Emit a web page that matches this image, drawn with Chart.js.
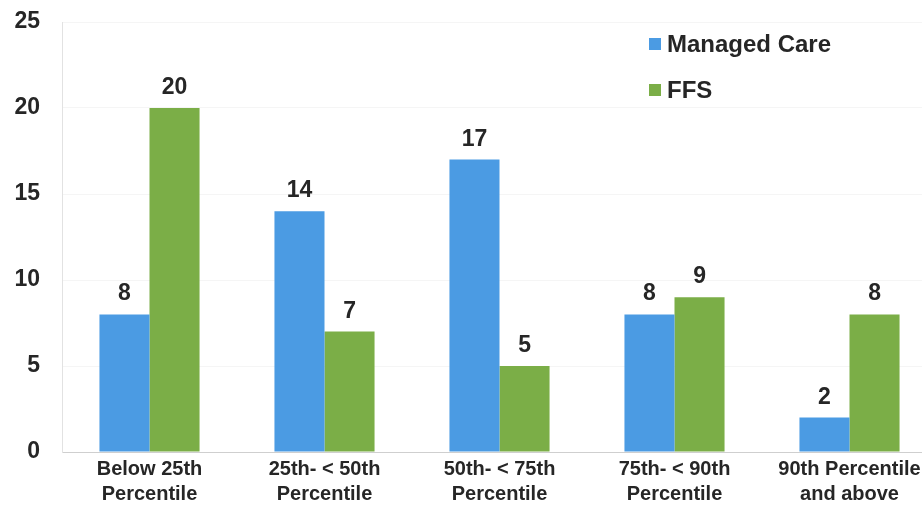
<!DOCTYPE html>
<html>
<head>
<meta charset="utf-8">
<script src="https://cdn.jsdelivr.net/npm/chart.js@4"></script>
<style>
  html, body { margin: 0; padding: 0; background: #fff; overflow: hidden; }
  #wrap { width: 940px; height: 513px; }
</style>
</head>
<body>
<div id="wrap"><canvas id="percentileChart"></canvas></div>
<script>
const categories = [
  ['Below 25th', 'Percentile'],
  ['25th- < 50th', 'Percentile'],
  ['50th- < 75th', 'Percentile'],
  ['75th- < 90th', 'Percentile'],
  ['90th Percentile', 'and above']
];
const managedCare = [8, 14, 17, 8, 2];
const ffs = [20, 7, 5, 9, 8];
const yTicks = [0, 5, 10, 15, 20, 25];

const FONT = '"Liberation Sans", Arial, sans-serif';
const TEXT = '#262626';

// numbers above each bar
const valueLabels = {
  id: 'valueLabels',
  afterDatasetsDraw(chart) {
    const ctx = chart.ctx;
    ctx.save();
    ctx.font = 'bold 23px ' + FONT;
    ctx.fillStyle = TEXT;
    ctx.textAlign = 'center';
    ctx.textBaseline = 'alphabetic';
    chart.data.datasets.forEach((ds, i) => {
      chart.getDatasetMeta(i).data.forEach((bar, j) => {
        ctx.fillText(ds.data[j], bar.x, bar.y - 14);
      });
    });
    ctx.restore();
  }
};

// legend stacked in the top right of the plot
const cornerLegend = {
  id: 'cornerLegend',
  afterDraw(chart) {
    const ctx = chart.ctx;
    const x = 649, y0 = 44, gap = 46;
    ctx.save();
    ctx.font = 'bold 24px ' + FONT;
    ctx.textBaseline = 'middle';
    chart.data.datasets.forEach((ds, i) => {
      const y = y0 + i * gap;
      ctx.fillStyle = ds.backgroundColor;
      ctx.fillRect(x, y - 6, 12, 12);
      ctx.fillStyle = TEXT;
      ctx.fillText(ds.label, x + 18, y + 1);
    });
    ctx.restore();
  }
};

new Chart(document.getElementById('percentileChart'), {
  type: 'bar',
  data: {
    labels: categories,
    datasets: [
      { label: 'Managed Care', data: managedCare, backgroundColor: '#4b9be3' },
      { label: 'FFS', data: ffs, backgroundColor: '#7bae47' }
    ]
  },
  options: {
    responsive: true,
    maintainAspectRatio: false,
    animation: false,
    layout: { padding: { top: 22, right: 3, left: 0, bottom: 0 } },
    datasets: { bar: { barPercentage: 1, categoryPercentage: 0.572 } },
    plugins: {
      legend: { display: false },
      tooltip: { enabled: false }
    },
    scales: {
      x: {
        afterFit: s => { s.height = 61; },
        grid: { display: false, drawTicks: false },
        border: { color: '#cfcfcf', width: 1 },
        ticks: {
          color: TEXT,
          font: { family: FONT, size: 20, weight: 'bold', lineHeight: 1.25 },
          padding: 5,
          maxRotation: 0,
          autoSkip: false
        }
      },
      y: {
        min: 0,
        max: 25,
        afterFit: s => { s.width = 62; s.paddingTop = 0; s.paddingBottom = 0; },
        afterBuildTicks: s => { s.ticks = yTicks.map(v => ({ value: v })); },
        grid: { color: 'rgba(0,0,0,0.04)', drawTicks: false },
        border: { color: '#e2e2e2', width: 1 },
        ticks: {
          color: TEXT,
          font: { family: FONT, size: 23, weight: 'bold' },
          padding: 22
        }
      }
    }
  },
  plugins: [valueLabels, cornerLegend]
});
</script>
</body>
</html>
